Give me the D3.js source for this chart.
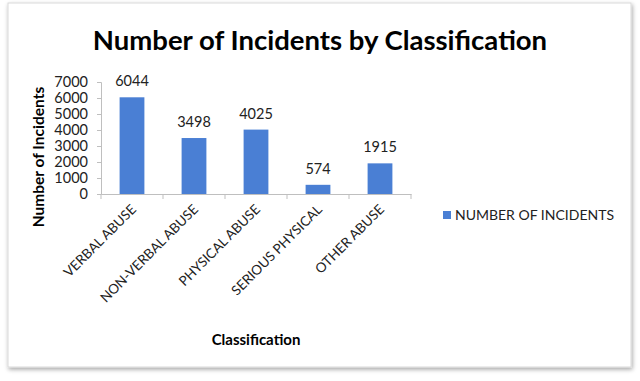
<!DOCTYPE html>
<html>
<head>
<meta charset="utf-8">
<script src="https://cdn.jsdelivr.net/npm/d3@7"></script>
<style>
    body { margin: 0; background: #fff; }
    text { font-family: Lato, "Open Sans", sans-serif; }
</style>
</head>
<body>
<div id="chart"></div>
<script>
const categories = ['VERBAL ABUSE', 'NON-VERBAL ABUSE', 'PHYSICAL ABUSE', 'SERIOUS PHYSICAL', 'OTHER ABUSE'];
const incidents = [6044, 3498, 4025, 574, 1915];
const yTicks = [0, 1000, 2000, 3000, 4000, 5000, 6000, 7000];
const seriesName = 'NUMBER OF INCIDENTS';

const W = 640, H = 381;
const margin = {top: 82, left: 101, right: 229, bottom: 187};
const width = W - margin.left - margin.right;
const height = H - margin.top - margin.bottom;

const svg = d3.select('#chart')
    .append('svg')
    .attr('width', W)
    .attr('height', H);

// Frame with a soft shadow
const defs = svg.append('defs');
const filter = defs.append('filter').attr('id', 'shadow')
    .attr('x', '-5%').attr('y', '-5%').attr('width', '110%').attr('height', '110%');
filter.append('feDropShadow')
    .attr('dx', 1).attr('dy', 2).attr('stdDeviation', 2)
    .attr('flood-color', '#000').attr('flood-opacity', 0.35);

svg.append('rect')
    .attr('x', 8).attr('y', 3)
    .attr('width', 623).attr('height', 364)
    .attr('fill', '#fff')
    .attr('stroke', '#d9d9d9')
    .attr('filter', 'url(#shadow)');

const g = svg.append('g')
    .attr('transform', `translate(${margin.left},${margin.top})`);

// Scales
const x = d3.scaleBand()
    .domain(categories)
    .range([0, width])
    .paddingInner(0.6)
    .paddingOuter(0.3);

const y = d3.scaleLinear()
    .domain([0, 7000])
    .range([height, 0]);

// Bars
g.selectAll('rect.bar')
    .data(incidents)
    .enter()
    .append('rect')
    .attr('class', 'bar')
    .attr('x', (d, i) => x(categories[i]))
    .attr('y', d => y(d))
    .attr('width', x.bandwidth())
    .attr('height', d => height - y(d))
    .attr('fill', '#4a7fd4');

// Value labels
g.selectAll('text.value')
    .data(incidents)
    .enter()
    .append('text')
    .attr('class', 'value')
    .attr('x', (d, i) => x(categories[i]) + x.bandwidth() / 2)
    .attr('y', d => y(d) - 11)
    .attr('text-anchor', 'middle')
    .attr('fill', '#222')
    .style('font-size', '14.5px')
    .text(d => d);

// Y axis
const yAxis = g.append('g')
    .call(d3.axisLeft(y).tickValues(yTicks).tickFormat(d3.format('d')).tickSize(4).tickPadding(9));
yAxis.select('.domain').attr('stroke', '#bfbfbf');
yAxis.selectAll('.tick line').attr('stroke', '#bfbfbf');
yAxis.selectAll('.tick text')
    .attr('fill', '#222')
    .style('font-size', '14.5px')
    .style('font-family', 'Lato, sans-serif');

// X axis
const step = x.step();
const xAxis = g.append('g')
    .attr('transform', `translate(0,${height})`)
    .call(d3.axisBottom(x).tickSize(0).tickSizeOuter(0));
xAxis.select('.domain').attr('stroke', '#bfbfbf');
xAxis.selectAll('.tick text')
    .attr('fill', '#222')
    .style('font-size', '13.5px')
    .style('font-family', 'Lato, sans-serif')
    .attr('text-anchor', 'end')
    .attr('y', 0)
    .attr('dx', -8)
    .attr('dy', 15)
    .attr('transform', 'rotate(-45)');

// Category separator ticks
g.selectAll('line.sep')
    .data(d3.range(categories.length + 1))
    .enter()
    .append('line')
    .attr('class', 'sep')
    .attr('x1', i => i * step)
    .attr('x2', i => i * step)
    .attr('y1', height)
    .attr('y2', height + 5)
    .attr('stroke', '#bfbfbf');

// Title
svg.append('text')
    .attr('x', 320)
    .attr('y', 50)
    .attr('text-anchor', 'middle')
    .attr('fill', '#000')
    .style('font-size', '27.5px')
    .style('font-weight', 'bold')
    .text('Number of Incidents by Classification');

// Axis titles
svg.append('text')
    .attr('transform', 'rotate(-90)')
    .attr('x', -157)
    .attr('y', 44)
    .attr('text-anchor', 'middle')
    .attr('fill', '#000')
    .style('font-size', '15.5px')
    .style('font-weight', 'bold')
    .text('Number of Incidents');

svg.append('text')
    .attr('x', 256)
    .attr('y', 345)
    .attr('text-anchor', 'middle')
    .attr('fill', '#000')
    .style('font-size', '15px')
    .style('font-weight', 'bold')
    .text('Classification');

// Legend
const legend = svg.append('g')
    .attr('transform', 'translate(443,211)');
legend.append('rect')
    .attr('width', 8).attr('height', 8)
    .attr('fill', '#4a7fd4');
legend.append('text')
    .attr('x', 12)
    .attr('y', 9)
    .attr('fill', '#222')
    .style('font-size', '14px')
    .text(seriesName);
</script>
</body>
</html>
